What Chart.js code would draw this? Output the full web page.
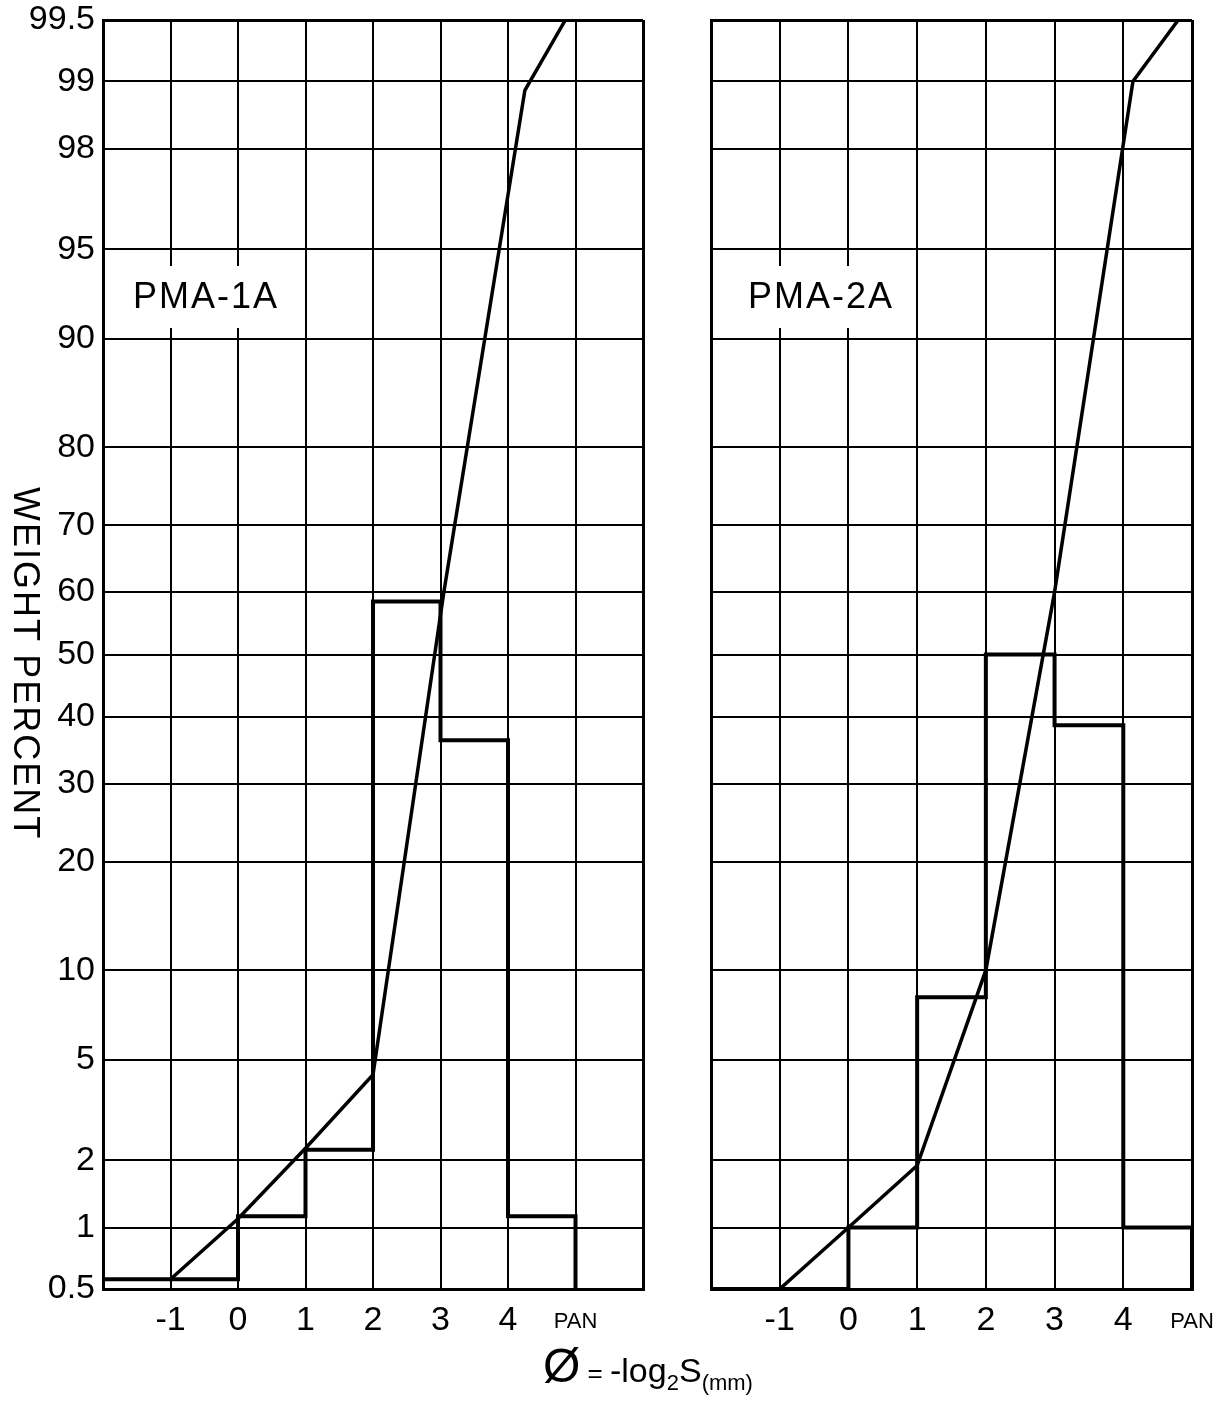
<!DOCTYPE html>
<html lang="en">
<head>
<meta charset="UTF-8">
<title>PMA-1A / PMA-2A</title>
<script src="https://cdn.jsdelivr.net/npm/chart.js"></script>
<style>
    body {
        margin: 0;
        background: #fff;
        font-family: "Liberation Sans", Arial, sans-serif;
        color: #000;
    }
    #page { position: relative; width: 1222px; height: 1406px; overflow: hidden; }
    #left { position: absolute; left: 0; top: 0; }
    #right { position: absolute; left: 700px; top: 0; }
    #ytitle {
        position: absolute; left: 8px; top: 487px;
        writing-mode: vertical-rl;
        font-size: 36px; line-height: 36px; letter-spacing: 2px;
    }
    #xtitle {
        position: absolute; left: 543px; top: 1338px;
        font-size: 34px; white-space: nowrap;
    }
    #xtitle .phi { font-size: 48px; }
    #xtitle .eq { font-size: 26px; }
    #xtitle sub { font-size: 22px; }
</style>
</head>
<body>
<div id="page">
    <canvas id="left" width="660" height="1406"></canvas>
    <canvas id="right" width="522" height="1406"></canvas>
    <div id="ytitle">WEIGHT PERCENT</div>
    <div id="xtitle"><span class="phi">Ø</span><span class="eq"> = </span>-log<sub>2</sub>S<sub>(mm)</sub></div>
</div>

<script>
// probability-paper ticks (weight percent)
const pctTicks = [0.5, 1, 2, 5, 10, 20, 30, 40, 50, 60, 70, 80, 90, 95, 98, 99, 99.5];

// PMA-1A : histogram (class edges in phi, weight %) and cumulative curve
const histPhi1A = [-2, 0, 1, 2, 3, 4, 5];
const histPct1A = [0.56, 1.13, 2.22, 58.5, 36.4, 1.13, 0.5];
const cumPhi1A = [-1, 0, 1, 2, 3.05, 4.25, 4.85];
const cumPct1A = [0.56, 1.1, 2.25, 4.4, 60, 98.9, 99.5];

// PMA-2A
const histPhi2A = [-2, 0, 1, 2, 3, 4, 5];
const histPct2A = [0.5, 1.0, 8.2, 50, 38.7, 1.0, 0.5];
const cumPhi2A = [-1, 0, 1, 2, 3, 4.14, 4.8];
const cumPct2A = [0.5, 1.0, 1.9, 10, 60, 99, 99.5];

// inverse normal CDF (Acklam)
function probit(p) {
    const a = [-3.969683028665376e+01, 2.209460984245205e+02, -2.759285104469687e+02, 1.383577518672690e+02, -3.066479806614716e+01, 2.506628277459239e+00];
    const b = [-5.447609879822406e+01, 1.615858368580409e+02, -1.556989798598866e+02, 6.680131188771972e+01, -1.328068155288572e+01];
    const c = [-7.784894002430293e-03, -3.223964580411365e-01, -2.400758277161838e+00, -2.549732539343734e+00, 4.374664141464968e+00, 2.938163982698783e+00];
    const d = [7.784695709041462e-03, 3.224671290700398e-01, 2.445134137142996e+00, 3.754408661907416e+00];
    const plow = 0.02425;
    let q, r;
    if (p < plow) {
        q = Math.sqrt(-2 * Math.log(p));
        return (((((c[0]*q+c[1])*q+c[2])*q+c[3])*q+c[4])*q+c[5]) / ((((d[0]*q+d[1])*q+d[2])*q+d[3])*q+1);
    }
    if (p > 1 - plow) {
        q = Math.sqrt(-2 * Math.log(1 - p));
        return -(((((c[0]*q+c[1])*q+c[2])*q+c[3])*q+c[4])*q+c[5]) / ((((d[0]*q+d[1])*q+d[2])*q+d[3])*q+1);
    }
    q = p - 0.5; r = q * q;
    return (((((a[0]*r+a[1])*r+a[2])*r+a[3])*r+a[4])*r+a[5])*q / (((((b[0]*r+b[1])*r+b[2])*r+b[3])*r+b[4])*r+1);
}

function normCdf(z) {
    const t = 1 / (1 + 0.3275911 * Math.abs(z) / Math.SQRT2);
    const y = 1 - (((((1.061405429*t - 1.453152027)*t) + 1.421413741)*t - 0.284496736)*t + 0.254829592)*t * Math.exp(-z*z/2);
    return z >= 0 ? (1 + y) / 2 : (1 - y) / 2;
}

class ProbabilityScale extends Chart.LinearScale {
    determineDataLimits() {
        this.min = this.options.min;
        this.max = this.options.max;
    }
    buildTicks() {
        return pctTicks.map(v => ({ value: v }));
    }
    configure() {
        super.configure();
        this._zMin = probit(this.min / 100);
        this._zMax = probit(this.max / 100);
    }
    getPixelForValue(value) {
        const z = probit(value / 100);
        return this.getPixelForDecimal((z - this._zMin) / (this._zMax - this._zMin));
    }
    getValueForPixel(pixel) {
        const z = this._zMin + this.getDecimalForPixel(pixel) * (this._zMax - this._zMin);
        return normCdf(z) * 100;
    }
}
ProbabilityScale.id = 'probability';
ProbabilityScale.defaults = {};
Chart.register(ProbabilityScale);

Chart.defaults.color = '#000';
Chart.defaults.font.family = '"Liberation Sans", Arial, sans-serif';

// white patch + sample name inside the panel
const panelLabel = {
    id: 'panelLabel',
    afterDraw(chart, args, opts) {
        const { ctx, chartArea } = chart;
        ctx.save();
        ctx.fillStyle = '#fff';
        ctx.fillRect(chartArea.left + 4, 266, opts.boxWidth, 62);
        ctx.fillStyle = '#000';
        ctx.font = '36px "Liberation Sans", Arial, sans-serif';
        ctx.letterSpacing = '2px';
        ctx.textBaseline = 'middle';
        ctx.fillText(opts.text, chartArea.left + opts.dx, 298);
        ctx.restore();
    }
};

function pts(xs, ys) {
    return xs.map((x, i) => ({ x: x, y: ys[i] }));
}

function makeChart(id, name, hPhi, hPct, cPhi, cPct, xMax, showY, pad, dx) {
    return new Chart(document.getElementById(id), {
        type: 'line',
        data: {
            datasets: [
                {
                    label: name + ' histogram',
                    data: pts(hPhi, hPct),
                    stepped: 'before',
                    borderColor: '#000',
                    borderWidth: 4,
                    borderJoinStyle: 'miter',
                    pointRadius: 0,
                    fill: false
                },
                {
                    label: name + ' cumulative',
                    data: pts(cPhi, cPct),
                    borderColor: '#000',
                    borderWidth: 3.5,
                    pointRadius: 0,
                    tension: 0,
                    fill: false
                }
            ]
        },
        options: {
            responsive: false,
            animation: false,
            events: [],
            layout: { padding: pad },
            plugins: {
                legend: { display: false },
                tooltip: { enabled: false },
                panelLabel: { text: name, dx: dx, boxWidth: 182 }
            },
            scales: {
                x: {
                    type: 'linear',
                    min: -2,
                    max: xMax,
                    afterFit: s => {
                        s.height = 117;
                        s.paddingLeft = 0;
                        s.paddingRight = 0;
                    },
                    grid: {
                        color: '#000',
                        drawTicks: false,
                        lineWidth: ctx => (ctx.tick && (ctx.tick.value === -2 || ctx.tick.value === xMax)) ? 3 : 2
                    },
                    border: { color: '#000', width: 3 },
                    ticks: {
                        stepSize: 1,
                        autoSkip: false,
                        maxRotation: 0,
                        padding: 11,
                        font: ctx => (ctx.tick && ctx.tick.value === 5) ? { size: 22, lineHeight: 2 } : { size: 34 },
                        callback: v => (v === -2 || v === 6) ? '' : (v === 5 ? 'PAN' : String(v))
                    }
                },
                y: {
                    type: 'probability',
                    min: 0.5,
                    max: 99.5,
                    afterFit: s => {
                        s.width = showY ? 103 : 0;
                        s.paddingTop = 0;
                        s.paddingBottom = 0;
                    },
                    grid: {
                        color: '#000',
                        drawTicks: false,
                        lineWidth: ctx => (ctx.tick && (ctx.tick.value === 0.5 || ctx.tick.value === 99.5)) ? 3 : 2
                    },
                    border: { color: '#000', width: 3 },
                    ticks: {
                        display: showY,
                        padding: 8,
                        font: { size: 34 },
                        callback: v => String(v)
                    }
                }
            }
        },
        plugins: [panelLabel]
    });
}

makeChart('left', 'PMA-1A', histPhi1A, histPct1A, cumPhi1A, cumPct1A, 6, true,
    { top: 20, right: 17, left: 0, bottom: 0 }, 30);
makeChart('right', 'PMA-2A', histPhi2A, histPct2A, cumPhi2A, cumPct2A, 5, false,
    { top: 20, right: 30, left: 11, bottom: 0 }, 37);
</script>
</body>
</html>
